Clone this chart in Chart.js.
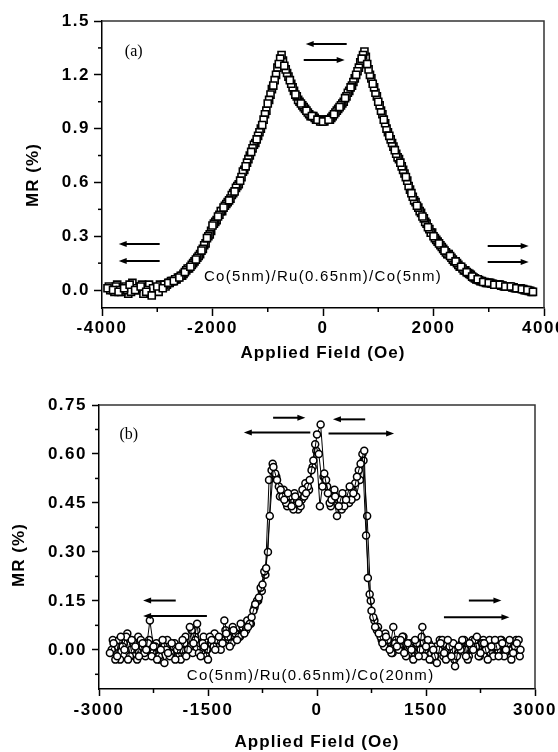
<!DOCTYPE html>
<html><head><meta charset="utf-8">
<script src="https://cdn.jsdelivr.net/npm/chart.js@4"></script>
<style>
html,body{margin:0;padding:0;background:#fff;}
#wrap{position:relative;width:558px;height:752px;overflow:hidden;}
canvas{position:absolute;left:0;}
</style></head><body>
<div id="wrap">
<canvas id="c1" width="558" height="372" style="top:0"></canvas>
<canvas id="c2" width="558" height="380" style="top:372px"></canvas>
</div>
<script>
// ===== Panel (a): Co(5nm)/Ru(0.65nm)/Co(5nm) =====
const fieldA1 = [-3900,-3800,-3700,-3600,-3500,-3400,-3300,-3200,-3100,-3000,
-2900,-2800,-2700,-2600,-2500,-2400,-2300,-2200,-2100,-2000,
-1900,-1800,-1700,-1600,-1500,-1400,-1300,-1200,-1100,-1000,
-900,-800,-700,-600,-500,-400,-300,-200,-100,0,
100,200,300,400,500,600,700,800,900,1000,
1100,1200,1300,1400,1500,1600,1700,1800,1900,2000,
2100,2200,2300,2400,2500,2600,2700,2800,2900,3000,
3100,3200,3300,3400,3500,3600,3700,3800];
const mrA1 = [0.01,0.00,-0.01,0.01,0.03,0.00,0.02,-0.01,-0.03,0.02,
0.01,0.04,0.05,0.07,0.10,0.13,0.17,0.22,0.29,0.36,
0.41,0.46,0.50,0.55,0.61,0.69,0.77,0.84,0.92,1.04,
1.14,1.26,1.25,1.17,1.09,1.04,1.00,0.97,0.95,0.94,
0.95,0.98,1.02,1.07,1.13,1.20,1.29,1.26,1.15,1.05,
0.95,0.86,0.78,0.71,0.63,0.54,0.47,0.41,0.35,0.30,
0.26,0.22,0.19,0.16,0.13,0.10,0.075,0.06,0.045,0.04,
0.03,0.03,0.02,0.02,0.01,0.005,0.0,-0.01];
const fieldA2 = [-3850,-3750,-3650,-3550,-3450,-3350,-3250,-3150,-3050,-2950,
-2850,-2750,-2650,-2550,-2450,-2350,-2250,-2150,-2050,-1950,
-1850,-1750,-1650,-1550,-1450,-1350,-1250,-1150,-1050,-950,
-850,-750,-650,-550,-450,-350,-250,-150,-50,50,
150,250,350,450,550,650,750,850,950,1050,
1150,1250,1350,1450,1550,1650,1750,1850,1950,2050,
2150,2250,2350,2450,2550,2650,2750,2850,2950,3050,
3150,3250,3350,3450,3550,3650,3750];
const mrA2 = [0.00,0.02,-0.01,0.00,0.04,0.01,-0.02,0.03,0.00,0.03,
0.02,0.05,0.06,0.08,0.12,0.15,0.19,0.25,0.31,0.38,
0.44,0.48,0.53,0.58,0.66,0.73,0.81,0.88,0.98,1.09,
1.20,1.31,1.21,1.13,1.06,1.02,0.98,0.96,0.94,0.95,
0.96,1.00,1.04,1.10,1.16,1.24,1.33,1.20,1.10,1.00,
0.90,0.82,0.74,0.67,0.58,0.50,0.44,0.38,0.32,0.28,
0.24,0.20,0.17,0.14,0.11,0.09,0.065,0.05,0.04,0.035,
0.03,0.025,0.02,0.015,0.01,0.0,-0.005];
const fieldA3 = [-3875,-3775,-3675,-3575,-3475,-3375,-3275,-3175,-3075,-2975,
-2875,-2775,-2675,-2575,-2475,-2375,-2275,-2175,-2075,-1975,
-1875,-1775,-1675,-1575,-1475,-1375,-1275,-1175,-1075,-975,
-875,-775,-675,-575,-475,-375,-275,-175,-75,25,
125,225,325,425,525,625,725,825,925,1025,
1125,1225,1325,1425,1525,1625,1725,1825,1925,2025,
2125,2225,2325,2425,2525,2625,2725,2825,2925,3025,
3125,3225,3325,3425,3525,3625,3725];
const mrA3 = [0.02,-0.01,0.00,0.02,-0.01,0.01,0.03,0.00,0.01,-0.01,
0.03,0.04,0.06,0.08,0.11,0.14,0.18,0.23,0.30,0.37,
0.42,0.47,0.51,0.57,0.63,0.71,0.79,0.86,0.95,1.06,
1.17,1.29,1.23,1.15,1.08,1.03,0.99,0.97,0.95,0.94,
0.95,0.99,1.03,1.08,1.14,1.22,1.31,1.23,1.13,1.03,
0.93,0.84,0.76,0.69,0.61,0.52,0.46,0.40,0.34,0.29,
0.25,0.21,0.18,0.15,0.12,0.095,0.07,0.055,0.045,0.04,
0.03,0.025,0.02,0.015,0.01,0.005,-0.005];
const fieldA4 = [-3825,-3725,-3625,-3525,-3425,-3325,-3225,-3125,-3025,-2925,
-2825,-2725,-2625,-2525,-2425,-2325,-2225,-2125,-2025,-1925,
-1825,-1725,-1625,-1525,-1425,-1325,-1225,-1125,-1025,-925,
-825,-725,-625,-525,-425,-325,-225,-125,-25,75,
175,275,375,475,575,675,775,875,975,1075,
1175,1275,1375,1475,1575,1675,1775,1875,1975,2075,
2175,2275,2375,2475,2575,2675,2775,2875,2975,3075,
3175,3275,3375,3475,3575,3675,3775];
const mrA4 = [0.01,0.03,0.00,-0.02,0.02,0.00,0.01,-0.02,0.01,0.02,
0.03,0.05,0.07,0.09,0.12,0.16,0.20,0.26,0.33,0.39,
0.44,0.49,0.54,0.59,0.67,0.75,0.82,0.90,1.00,1.12,
1.24,1.28,1.19,1.11,1.05,1.01,0.97,0.95,0.94,0.95,
0.97,1.01,1.05,1.11,1.18,1.27,1.30,1.18,1.08,0.98,
0.88,0.80,0.73,0.65,0.56,0.49,0.43,0.37,0.32,0.27,
0.23,0.20,0.16,0.13,0.11,0.085,0.06,0.05,0.04,0.035,
0.03,0.02,0.02,0.01,0.01,0.0,-0.01];
const xTicksA = [-4000,-2000,0,2000,4000];
const xTickLabelsA = ['-4000','-2000','0','2000','4000'];
const xMinorA = [-3000,-1000,1000,3000];
const yTicksA = [0.0,0.3,0.6,0.9,1.2,1.5];
const yTickLabelsA = ['0.0','0.3','0.6','0.9','1.2','1.5'];
const yMinorA = [0.15,0.45,0.75,1.05,1.35];
// arrows: [tailField, headField, MR]
const arrowsA = [[429,-313,1.372],[-349,393,1.283],[-2956,-3698,0.257],[-2956,-3698,0.162],[2981,3723,0.245],[2981,3723,0.156]];
const sampleA = 'Co(5nm)/Ru(0.65nm)/Co(5nm)';
const sampleAPos = [0, 0.072];
const panelA = '(a)';
const panelAPos = [-3426, 1.326];

// ===== Panel (b): Co(5nm)/Ru(0.65nm)/Co(20nm) =====
const fieldB1 = [-2850,-2800,-2750,-2700,-2650,-2600,-2550,-2500,-2450,-2400,
-2350,-2300,-2250,-2200,-2150,-2100,-2050,-2000,-1950,-1900,
-1850,-1800,-1750,-1700,-1650,-1600,-1550,-1500,-1450,-1400,
-1350,-1300,-1250,-1200,-1150,-1100,-1050,-1000,-950,-900,
-850,-800,-750,-700,-650,-600,-550,-500,-450,-400,
-350,-300,-250,-200,-150,-100,-50,0,50,100,
150,200,250,300,350,400,450,500,550,600,
650,700,750,800,850,900,950,1000,1050,1100,
1150,1200,1250,1300,1350,1400,1450,1500,1550,1600,
1650,1700,1750,1800,1850,1900,1950,2000,2050,2100,
2150,2200,2250,2300,2350,2400,2450,2500,2550,2600,
2650,2700,2750,2800];
const mrB1 = [-0.01,0.02,-0.02,0.04,0.00,-0.03,0.03,0.01,-0.02,0.02,
0.00,0.09,0.01,-0.03,0.00,-0.04,-0.01,0.02,-0.03,0.01,
0.03,-0.02,0.07,0.02,0.08,-0.02,0.01,-0.03,0.03,0.00,
0.04,0.02,0.05,0.01,0.06,0.03,0.08,0.05,0.07,0.10,
0.14,0.16,0.20,0.25,0.41,0.56,0.52,0.49,0.46,0.48,
0.44,0.47,0.45,0.49,0.48,0.52,0.58,0.66,0.69,0.54,
0.48,0.46,0.47,0.44,0.48,0.46,0.50,0.48,0.53,0.57,
0.61,0.22,0.12,0.07,0.05,0.02,0.04,0.00,0.07,0.01,
0.03,-0.01,0.02,0.00,0.03,-0.02,0.07,0.01,-0.03,0.00,
-0.04,0.02,-0.01,0.03,-0.02,-0.05,0.01,0.03,-0.02,0.02,
0.00,0.04,-0.01,0.02,-0.03,0.01,0.03,-0.02,0.02,0.00,
0.03,-0.01,0.02,0.00];
const fieldB2 = [-2825,-2775,-2725,-2675,-2625,-2575,-2525,-2475,-2425,-2375,
-2325,-2275,-2225,-2175,-2125,-2075,-2025,-1975,-1925,-1875,
-1825,-1775,-1725,-1675,-1625,-1575,-1525,-1475,-1425,-1375,
-1325,-1275,-1225,-1175,-1125,-1075,-1025,-975,-925,-875,
-825,-775,-725,-675,-625,-575,-525,-475,-425,-375,
-325,-275,-225,-175,-125,-75,-25,25,75,125,
175,225,275,325,375,425,475,525,575,625,
675,725,775,825,875,925,975,1025,1075,1125,
1175,1225,1275,1325,1375,1425,1475,1525,1575,1625,
1675,1725,1775,1825,1875,1925,1975,2025,2075,2125,
2175,2225,2275,2325,2375,2425,2475,2525,2575,2625,
2675,2725,2775];
const mrB2 = [0.00,-0.03,0.03,0.01,0.04,-0.02,0.02,-0.03,0.03,-0.01,
0.02,-0.02,0.01,-0.02,0.03,0.00,-0.02,0.01,0.00,-0.03,
0.02,0.00,0.06,0.03,-0.01,0.02,-0.02,0.04,0.01,0.03,
0.00,0.09,0.04,0.02,0.05,0.04,0.07,0.06,0.08,0.12,
0.15,0.19,0.24,0.30,0.55,0.54,0.50,0.47,0.45,0.47,
0.43,0.46,0.44,0.47,0.50,0.55,0.63,0.60,0.50,0.52,
0.45,0.47,0.41,0.46,0.44,0.48,0.46,0.51,0.55,0.60,
0.35,0.17,0.10,0.06,0.04,0.01,0.03,-0.01,0.02,0.00,
0.04,-0.02,0.01,-0.03,0.02,0.00,-0.02,0.03,0.01,-0.02,
0.00,0.03,-0.03,0.01,0.02,-0.02,0.00,0.03,-0.03,0.01,
0.03,-0.02,0.02,0.00,0.03,-0.02,0.01,0.03,-0.02,0.02,
-0.03,0.01,0.03];
const fieldB3 = [-2810,-2760,-2710,-2660,-2610,-2560,-2510,-2460,-2410,-2360,
-2310,-2260,-2210,-2160,-2110,-2060,-2010,-1960,-1910,-1860,
-1810,-1760,-1710,-1660,-1610,-1560,-1510,-1460,-1410,-1360,
-1310,-1260,-1210,-1160,-1110,-1060,-1010,-960,-910,-860,
-810,-760,-710,-660,-610,-560,-510,-460,-410,-360,
-310,-260,-210,-160,-110,-60,-10,40,90,140,
190,240,290,340,390,440,490,540,590,640,
690,740,790,840,890,940,990,1040,1090,1140,
1190,1240,1290,1340,1390,1440,1490,1540,1590,1640,
1690,1740,1790,1840,1890,1940,1990,2040,2090,2140,
2190,2240,2290,2340,2390,2440,2490,2540,2590,2640,
2690,2740,2790];
const mrB3 = [0.03,0.01,-0.03,0.02,0.05,0.00,-0.02,0.04,0.01,-0.02,
0.03,-0.01,0.02,-0.03,0.01,0.03,-0.01,0.02,-0.02,0.00,
0.04,0.01,-0.01,0.06,0.02,0.04,0.00,0.02,0.05,0.01,
0.03,0.06,0.03,0.07,0.05,0.04,0.06,0.09,0.08,0.13,
0.15,0.18,0.23,0.52,0.57,0.53,0.47,0.49,0.44,0.46,
0.48,0.43,0.46,0.51,0.49,0.56,0.61,0.44,0.53,0.50,
0.44,0.49,0.46,0.43,0.47,0.45,0.49,0.47,0.52,0.58,
0.41,0.15,0.09,0.07,0.03,0.05,0.02,-0.01,0.03,0.01,
0.04,0.00,0.02,-0.02,0.01,0.04,0.00,0.02,-0.03,0.01,
0.03,-0.02,0.00,0.02,-0.03,-0.01,0.02,0.00,-0.02,0.03,
0.01,-0.02,0.03,0.01,-0.01,0.02,0.00,0.03,-0.01,0.02,
0.00,0.03,-0.02];
const xTicksB = [-3000,-1500,0,1500,3000];
const xTickLabelsB = ['-3000','-1500','0','1500','3000'];
const xMinorB = [-2250,-750,750,2250];
const yTicksB = [0.00,0.15,0.30,0.45,0.60,0.75];
const yTickLabelsB = ['0.00','0.15','0.30','0.45','0.60','0.75'];
const yMinorB = [-0.075,0.075,0.225,0.375,0.525,0.675];
const arrowsB = [[-92,-1007,0.666],[-604,-160,0.711],[663,219,0.706],[159,1061,0.663],
  [-1944,-2393,0.151],[-1515,-2393,0.104],[2090,2538,0.151],[1747,2648,0.100]];
const sampleB = 'Co(5nm)/Ru(0.65nm)/Co(20nm)';
const sampleBPos = [-88, -0.079];
const panelB = '(b)';
const panelBPos = [-2589, 0.658];

const xTitle = 'Applied Field (Oe)';
const yTitle = 'MR (%)';

const SANS = '"Liberation Sans", Arial, Helvetica, sans-serif';
const SERIF = '"Liberation Serif", "Times New Roman", serif';

const decor = {
  id: 'decor',
  beforeDraw(chart) { chart.ctx.letterSpacing = '1.5px'; },
  afterDraw(chart, args, o) {
    const ctx = chart.ctx, a = chart.chartArea, xs = chart.scales.x, ys = chart.scales.y;
    ctx.save();
    ctx.strokeStyle = '#333'; ctx.lineWidth = 1.5;
    ctx.beginPath(); ctx.moveTo(a.left, a.top); ctx.lineTo(a.right, a.top); ctx.lineTo(a.right, a.bottom); ctx.stroke();
    ctx.strokeStyle = '#000'; ctx.lineWidth = 1.5;
    o.minorX.forEach(v => { const p = xs.getPixelForValue(v); ctx.beginPath(); ctx.moveTo(p, a.bottom); ctx.lineTo(p, a.bottom + o.minorLen); ctx.stroke(); });
    o.minorY.forEach(v => { const p = ys.getPixelForValue(v); ctx.beginPath(); ctx.moveTo(a.left, p); ctx.lineTo(a.left - o.minorLen, p); ctx.stroke(); });
    ctx.fillStyle = '#000'; ctx.lineWidth = 2;
    o.arrows.forEach(([t, h, yv]) => {
      const x1 = xs.getPixelForValue(t), x2 = xs.getPixelForValue(h), y = ys.getPixelForValue(yv);
      const d = Math.sign(x2 - x1), hl = 8, hw = 3;
      ctx.beginPath(); ctx.moveTo(x1, y); ctx.lineTo(x2 - d * hl * 0.6, y); ctx.stroke();
      ctx.beginPath(); ctx.moveTo(x2, y); ctx.lineTo(x2 - d * hl, y - hw); ctx.lineTo(x2 - d * hl, y + hw); ctx.closePath(); ctx.fill();
    });
    ctx.fillStyle = '#000'; ctx.textAlign = 'center'; ctx.textBaseline = 'middle';
    ctx.letterSpacing = '1.3px';
    ctx.font = '15px ' + SANS;
    ctx.fillText(o.sample, xs.getPixelForValue(o.samplePos[0]), ys.getPixelForValue(o.samplePos[1]));
    ctx.letterSpacing = '0px';
    ctx.font = '16px ' + SERIF;
    ctx.fillText(o.panel, xs.getPixelForValue(o.panelPos[0]), ys.getPixelForValue(o.panelPos[1]));
    ctx.letterSpacing = '1.1px';
    ctx.font = 'bold 17px ' + SANS;
    ctx.fillText(xTitle, (a.left + a.right) / 2, o.xTitleY);
    ctx.translate(o.yTitleX, o.yTitleY); ctx.rotate(-Math.PI / 2);
    ctx.fillText(yTitle, 0, 0);
    ctx.restore();
  }
};

function makeChart(id, c) {
  const tickFont = { family: SANS, size: 17, weight: 'bold' };
  return new Chart(document.getElementById(id), {
    type: 'scatter',
    data: { datasets: c.datasets },
    options: {
      responsive: false, animation: false, devicePixelRatio: 1, events: [],
      layout: { padding: { left: 0, top: c.top, right: c.right, bottom: 0 } },
      plugins: { legend: { display: false }, tooltip: { enabled: false }, decor: c.decor },
      scales: {
        x: {
          type: 'linear', min: c.xMin, max: c.xMax,
          afterBuildTicks: s => { s.ticks = c.xTicks.map(v => ({ value: v })); },
          afterFit: s => { s.height = c.xH; s.paddingLeft = 0; s.paddingRight = 0; },
          ticks: { font: tickFont, color: '#000', padding: c.xPad, maxRotation: 0, autoSkip: false,
                   callback: (v, i) => c.xLabels[i] },
          grid: { drawOnChartArea: false, drawTicks: true, tickLength: c.tick, tickColor: '#000', tickWidth: 1.5 },
          border: { display: true, color: '#000', width: 1.5 }
        },
        y: {
          type: 'linear', min: c.yMin, max: c.yMax,
          afterBuildTicks: s => { s.ticks = c.yTicks.map(v => ({ value: v })); },
          afterFit: s => { s.width = c.yW; s.paddingTop = 0; s.paddingBottom = 0; },
          ticks: { font: tickFont, color: '#000', padding: c.yPad, autoSkip: false,
                   callback: (v, i) => c.yLabels[i] },
          grid: { drawOnChartArea: false, drawTicks: true, tickLength: c.tick, tickColor: '#000', tickWidth: 1.5 },
          border: { display: true, color: '#000', width: 1.5 }
        }
      }
    },
    plugins: [decor]
  });
}

const pts = (xs, ys) => xs.map((x, i) => ({ x: x, y: ys[i] }));
const sq = { pointStyle: 'rect', pointRadius: 5, pointBorderWidth: 1.6, pointBorderColor: '#000', pointBackgroundColor: '#fff', showLine: false };
const ci = { pointStyle: 'circle', pointRadius: 3.5, pointBorderWidth: 1.5, pointBorderColor: '#000', pointBackgroundColor: '#fff', showLine: true, borderColor: '#000', borderWidth: 1 };

makeChart('c1', {
  datasets: [Object.assign({ data: pts(fieldA1, mrA1) }, sq), Object.assign({ data: pts(fieldA3, mrA3) }, sq),
             Object.assign({ data: pts(fieldA2, mrA2) }, sq), Object.assign({ data: pts(fieldA4, mrA4) }, sq)],
  top: 21, right: 14, xH: 64, yW: 102, xMin: -4000, xMax: 4000, yMin: -0.1, yMax: 1.5,
  xTicks: xTicksA, xLabels: xTickLabelsA, yTicks: yTicksA, yLabels: yTickLabelsA,
  tick: 8, xPad: 2, yPad: 4,
  decor: { minorX: xMinorA, minorY: yMinorA, minorLen: 4, arrows: arrowsA, sample: sampleA, samplePos: sampleAPos,
           panel: panelA, panelPos: panelAPos, xTitleY: 353, yTitleX: 33, yTitleY: 175 }
});
makeChart('c2', {
  datasets: [Object.assign({ data: pts(fieldB1, mrB1) }, ci), Object.assign({ data: pts(fieldB2, mrB2) }, ci),
             Object.assign({ data: pts(fieldB3, mrB3) }, ci)],
  top: 33, right: 23, xH: 63, yW: 99, xMin: -3000, xMax: 3000, yMin: -0.12, yMax: 0.75,
  xTicks: xTicksB, xLabels: xTickLabelsB, yTicks: yTicksB, yLabels: yTickLabelsB,
  tick: 7, xPad: 4, yPad: 5,
  decor: { minorX: xMinorB, minorY: yMinorB, minorLen: 4, arrows: arrowsB, sample: sampleB, samplePos: sampleBPos,
           panel: panelB, panelPos: panelBPos, xTitleY: 370, yTitleX: 19, yTitleY: 183 }
});
</script>
</body></html>
